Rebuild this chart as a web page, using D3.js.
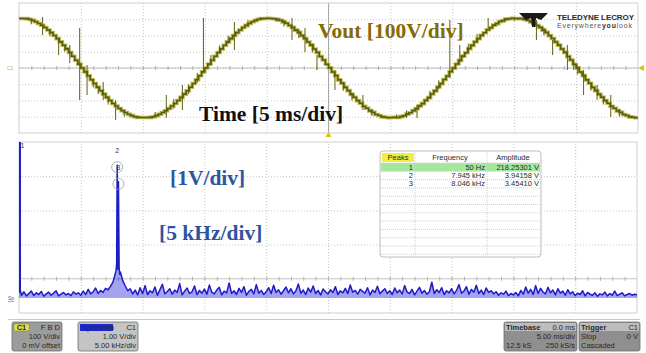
<!DOCTYPE html>
<html>
<head>
<meta charset="utf-8">
<script src="https://cdn.jsdelivr.net/npm/d3@7"></script>
<style>
  body { margin: 0; background: #fff; }
  svg text { font-family: "Liberation Sans", Arial, sans-serif; }
  .big { font-family: "Liberation Serif", "Times New Roman", serif !important; font-weight: bold; font-size: 21.5px; }
  .ui { font-size: 7.5px; fill: #2a2a2a; }
</style>
</head>
<body>
<div class="scope"></div>
<script>
// time trace, 0.25 ms per sample from -25 ms to +25 ms (volts)
const tStart = -25, tStep = 0.25;
const vout = [
  305,305,304,300,293,285,274,263,249,234,
  218,200,181,161,140,118,95,72,48,24,
  0,-24,-48,-72,-95,-118,-140,-161,-181,-200,
  -218,-234,-249,-263,-274,-285,-293,-300,-304,-305,
  -305,-305,-304,-300,-293,-285,-274,-263,-249,-234,
  -218,-200,-181,-161,-140,-118,-95,-72,-48,-24,
  0,24,48,72,95,118,140,161,181,200,
  218,234,249,263,274,285,293,300,304,305,
  306,305,303,299,294,284,275,262,250,233,
  219,199,182,160,141,117,96,71,49,23,
  1,-25,-47,-73,-94,-119,-139,-162,-180,-201,
  -217,-235,-248,-264,-273,-286,-292,-301,-303,-306,
  -305,-304,-305,-299,-294,-284,-275,-262,-250,-233,
  -219,-199,-182,-160,-141,-117,-96,-71,-49,-23,
  -1,25,47,73,94,119,139,162,180,201,
  217,235,248,264,273,286,292,301,303,306,
  305,304,305,299,294,284,275,262,250,233,
  219,199,182,160,141,117,96,71,49,23,
  1,-25,-47,-73,-94,-119,-139,-162,-180,-201,
  -217,-235,-248,-264,-273,-286,-292,-301,-303,-306,
  -305
];
// switching spikes: [time ms, high V, low V]
const spikes = [
  [-23.1,314,203],[-21.8,172,80],[-20.9,141,31],[-20.1,246,-197],[-19.5,18,-166],
  [-18.2,-86,-197],[-17.2,-197,-320],[-13.1,-166,-308],[-11.8,-105,-258],[-10.1,308,-25],
  [-7.6,283,111],[-2.95,308,172],[-1.9,246,98],[-0.93,80,-12],[0.52,-12,-135],
  [2.78,-166,-258],[7.15,-228,-308],[9.8,295,-62],[10.6,141,18],[12.9,308,246],
  [16.8,295,172],[18.1,172,80],[19.3,141,-12],[20.6,-12,-166],[21.7,-105,-197],[22.8,-166,-301]
];
const smallSpikes = [
  [-24.0,300,270],[-22.5,240,195],[-21.3,140,100],[-19.0,-70,-120],[-18.6,-110,-160],
  [-17.8,-175,-225],[-16.5,-255,-300],[-14.0,-270,-305],[-12.5,-190,-250],[-11.3,-100,-160],
  [-10.6,-30,-90],[-9.5,80,20],[-8.8,140,90],[-8.1,200,150],[-6.5,295,250],
  [-4.2,308,285],[-3.6,300,255],[-2.4,240,185],[-1.3,150,95],[1.2,-85,-140],
  [1.9,-150,-200],[3.5,-250,-295],[5.5,-285,-310],[6.3,-260,-305],[8.2,-140,-190],
  [8.9,-75,-130],[11.3,150,95],[12.0,210,155],[14.2,308,280],[15.0,310,290],
  [17.4,250,200],[19.8,45,-10],[20.1,20,-40],[21.2,-90,-140],[22.2,-170,-225],[23.5,-250,-300]
];

// spectrum, 0.2 kHz per sample from 0 to 50 kHz (volts)
const fStep = 0.2;
const spectrum = [
  0.20,0.14,0.24,0.12,0.19,0.26,0.13,0.21,0.16,0.25,0.11,0.18,0.23,0.14,0.20,0.27,0.12,0.17,0.22,0.15,0.19,0.13,0.24,0.17,0.21,
  0.14,0.26,0.16,0.31,0.18,0.24,0.35,0.19,0.28,0.22,0.34,0.30,0.40,0.52,0.78,0.95,0.82,0.56,0.41,0.27,0.33,0.18,0.29,0.15,0.36,
  0.19,0.42,0.16,0.27,0.21,0.38,0.14,0.30,0.46,0.18,0.25,0.33,0.17,0.29,0.22,0.48,0.15,0.26,0.35,0.19,0.24,0.41,0.16,0.28,0.20,
  0.32,0.17,0.44,0.23,0.18,0.29,0.37,0.15,0.26,0.21,0.50,0.19,0.27,0.16,0.34,0.22,0.39,0.14,0.25,0.31,0.18,0.45,0.20,0.28,0.16,
  0.24,0.36,0.19,0.43,0.22,0.30,0.17,0.27,0.38,0.21,0.33,0.18,0.26,0.47,0.20,0.29,0.16,0.35,0.23,0.41,0.19,0.28,0.15,0.32,0.24,
  0.18,0.30,0.22,0.39,0.16,0.27,0.21,0.34,0.19,0.44,0.23,0.28,0.17,0.31,0.25,0.20,0.36,0.15,0.29,0.22,0.40,0.18,0.26,0.33,0.19,
  0.27,0.16,0.35,0.21,0.29,0.18,0.42,0.23,0.19,0.31,0.15,0.26,0.37,0.20,0.28,0.17,0.24,0.52,0.19,0.30,0.22,0.36,0.16,0.27,0.21,
  0.33,0.18,0.28,0.45,0.20,0.26,0.39,0.17,0.31,0.23,0.43,0.19,0.29,0.16,0.35,0.22,0.27,0.18,0.24,0.14,0.21,0.17,0.26,0.13,0.19,
  0.15,0.22,0.12,0.28,0.17,0.38,0.20,0.31,0.16,0.42,0.19,0.34,0.23,0.18,0.37,0.21,0.29,0.15,0.33,0.20,0.26,0.14,0.30,0.18,0.24,
  0.13,0.20,0.16,0.27,0.12,0.22,0.17,0.14,0.21,0.11,0.18,0.15,0.23,0.12,0.19,0.14,0.26,0.13,0.17,0.21,0.12,0.16,0.19,0.14,0.17,
  0.15
];
// lower edge of the noise band (V)
const noiseFloor = 0.06;
// detail around the peaks [kHz, V]
const peakDetail = [[0.05,218.25],[0.1,0.3],[7.85,0.85],[7.9,1.05],[7.945,3.94158],[7.99,0.9],[8.02,1.1],[8.046,3.4541],[8.1,0.95],[8.15,0.75]];

const peakNo = [1, 2, 3];
const peakFreq = ['50 Hz', '7.945 kHz', '8.046 kHz'];
const peakAmp = ['218.25301 V', '3.94158 V', '3.45410 V'];
const peakFreqKHz = [0.05, 7.945, 8.046];
const peakAmpV = [218.25301, 3.94158, 3.45410];

const W = 646, H = 353;
const svg = d3.select('.scope').append('svg').attr('width', W).attr('height', H);

// ---------- top panel ----------
const panT = { x0: 19, x1: 638, y0: 3, y1: 133 };
const xT = d3.scaleLinear().domain([-25, 25]).range([panT.x0, panT.x1]);
const yT = d3.scaleLinear().domain([-400, 400]).range([panT.y1, panT.y0]);

svg.append('defs').append('clipPath').attr('id', 'clipT')
  .append('rect').attr('x', panT.x0).attr('y', panT.y0).attr('width', panT.x1 - panT.x0).attr('height', panT.y1 - panT.y0);

const gT = svg.append('g');
gT.append('g').attr('transform', 'translate(0,' + panT.y1 + ')')
  .call(d3.axisBottom(xT).tickValues(d3.range(-20, 25, 5)).tickSize(-(panT.y1 - panT.y0)).tickFormat(''))
  .call(g => g.select('.domain').remove())
  .call(g => g.selectAll('line').attr('stroke', '#c4c4c4').attr('stroke-dasharray', '1,2'));
gT.append('g').attr('transform', 'translate(' + panT.x0 + ',0)')
  .call(d3.axisLeft(yT).tickValues(d3.range(-300, 400, 100)).tickSize(-(panT.x1 - panT.x0)).tickFormat(''))
  .call(g => g.select('.domain').remove())
  .call(g => g.selectAll('line').attr('stroke', '#c4c4c4').attr('stroke-dasharray', '1,2'));
// centre lines with small ticks
gT.append('line').attr('x1', panT.x0).attr('x2', panT.x1).attr('y1', yT(0)).attr('y2', yT(0)).attr('stroke', '#bdbdbd');
gT.append('g').attr('transform', 'translate(0,' + yT(0) + ')')
  .call(d3.axisBottom(xT).tickValues(d3.range(-24, 25, 1)).tickSize(2).tickFormat(''))
  .call(g => g.select('.domain').remove())
  .call(g => g.selectAll('line').attr('stroke', '#b0b0b0').attr('y1', -2));
gT.append('line').attr('x1', xT(0)).attr('x2', xT(0)).attr('y1', panT.y0).attr('y2', panT.y1).attr('stroke', '#a8a8a8');
gT.append('rect').attr('x', panT.x0).attr('y', panT.y0).attr('width', panT.x1 - panT.x0).attr('height', panT.y1 - panT.y0)
  .attr('fill', 'none').attr('stroke', '#cfcfcf');

const wave = vout.map((v, i) => [tStart + i * tStep, v]);
const lineT = d3.line().x(d => xT(d[0])).y(d => yT(d[1])).curve(d3.curveStepAfter);
const traceT = gT.append('g').attr('clip-path', 'url(#clipT)');
traceT.append('path').datum(wave).attr('d', lineT).attr('fill', 'none').attr('stroke', '#bcbc50').attr('stroke-width', 3.6);
traceT.selectAll('.spk').data(spikes.concat(smallSpikes)).enter().append('line')
  .attr('x1', d => xT(d[0])).attr('x2', d => xT(d[0]))
  .attr('y1', d => yT(d[1])).attr('y2', d => yT(d[2]))
  .attr('stroke', '#6f6f1c').attr('stroke-width', 1.1);
traceT.append('path').datum(wave).attr('d', lineT).attr('fill', 'none').attr('stroke', '#5a5a10').attr('stroke-width', 1.6);

// markers
svg.append('text').attr('x', 7).attr('y', yT(0) + 2).attr('font-size', 5).attr('fill', '#c8b400').text('C1');
svg.append('path').attr('d', 'M638,' + yT(0) + ' l6,-3 l0,6 z').attr('fill', '#d4c800');
svg.append('path').attr('d', 'M' + xT(0) + ',' + (panT.y1 - 1) + ' l-3,5 l6,0 z').attr('fill', '#d4c800');

// logo
svg.append('path').attr('d', 'M519,13 L548,13 L541,20 L536,18 L535,27 L532,27 L531,18 L526,20 Z').attr('fill', '#1a1a1a');
svg.append('text').attr('x', 557).attr('y', 19.5).attr('font-size', 8).attr('font-weight', 'bold').attr('fill', '#2a2a2a')
  .attr('textLength', 77).text('TELEDYNE LECROY');
const tag = svg.append('text').attr('x', 557).attr('y', 27.5).attr('font-size', 7).attr('fill', '#555').attr('textLength', 75);
tag.append('tspan').text('Everywhere');
tag.append('tspan').attr('font-weight', 'bold').attr('fill', '#333').text('you');
tag.append('tspan').text('look');

svg.append('text').attr('class', 'big').attr('x', 318).attr('y', 38).attr('fill', '#856a08').text('Vout [100V/div]');
svg.append('text').attr('class', 'big').attr('x', 199).attr('y', 121).attr('fill', '#111').text('Time [5 ms/div]');

// ---------- bottom panel ----------
const panF = { x0: 19, x1: 637, y0: 142, y1: 313 };
const xF = d3.scaleLinear().domain([0, 50]).range([panF.x0, panF.x1]);
const yF = d3.scaleLinear().domain([0, 1]).range([300, 265.8]);
const yDiv = d3.scaleLinear().domain([0, 5]).range([panF.y1, panF.y0]);

svg.select('defs').append('clipPath').attr('id', 'clipF')
  .append('rect').attr('x', panF.x0).attr('y', panF.y0).attr('width', panF.x1 - panF.x0).attr('height', panF.y1 - panF.y0);

const gF = svg.append('g');
gF.append('g').attr('transform', 'translate(0,' + panF.y1 + ')')
  .call(d3.axisBottom(xF).tickValues(d3.range(5, 50, 5)).tickSize(-(panF.y1 - panF.y0)).tickFormat(''))
  .call(g => g.select('.domain').remove())
  .call(g => g.selectAll('line').attr('stroke', '#c4c4c4').attr('stroke-dasharray', '1,2'));
gF.append('g').attr('transform', 'translate(' + panF.x0 + ',0)')
  .call(d3.axisLeft(yDiv).tickValues([2, 3, 4]).tickSize(-(panF.x1 - panF.x0)).tickFormat(''))
  .call(g => g.select('.domain').remove())
  .call(g => g.selectAll('line').attr('stroke', '#c4c4c4').attr('stroke-dasharray', '1,2'));
gF.append('line').attr('x1', panF.x0).attr('x2', panF.x1).attr('y1', yDiv(1)).attr('y2', yDiv(1)).attr('stroke', '#c4c4c4');
gF.append('g').attr('transform', 'translate(0,' + yDiv(1) + ')')
  .call(d3.axisBottom(xF).tickValues(d3.range(1, 50, 1)).tickSize(2).tickFormat(''))
  .call(g => g.select('.domain').remove())
  .call(g => g.selectAll('line').attr('stroke', '#b0b0b0').attr('y1', -2));
gF.append('rect').attr('x', panF.x0).attr('y', panF.y0).attr('width', panF.x1 - panF.x0).attr('height', panF.y1 - panF.y0)
  .attr('fill', 'none').attr('stroke', '#cfcfcf');

const specPts = spectrum.map((v, i) => [i * fStep, v]).concat(peakDetail).sort((a, b) => a[0] - b[0]);
const lineF = d3.line().x(d => xF(d[0])).y(d => yF(d[1]));
const areaF = d3.area().x(d => xF(d[0])).y0(yF(noiseFloor)).y1(d => yF(d[1]));
const traceF = gF.append('g').attr('clip-path', 'url(#clipF)');
traceF.append('path').datum(specPts).attr('d', areaF).attr('fill', '#2424d8').attr('opacity', 0.42);
traceF.append('path').datum(specPts).attr('d', lineF).attr('fill', 'none')
  .attr('stroke', '#1c1cc8').attr('stroke-width', 1.5).attr('stroke-linejoin', 'round');

// peak markers
svg.append('text').attr('x', xF(peakFreqKHz[0]) + 1).attr('y', panF.y0 + 6).attr('font-size', 7).attr('fill', '#333').text(peakNo[0]);
[1, 2].forEach(i => {
  svg.append('circle').attr('cx', xF(peakFreqKHz[i])).attr('cy', yF(peakAmpV[i]) + 2).attr('r', 5.5)
    .attr('fill', 'none').attr('stroke', '#9a9a9a').attr('stroke-width', 0.8);
  svg.append('text').attr('x', xF(peakFreqKHz[i])).attr('y', yF(peakAmpV[i]) - 12).attr('text-anchor', 'middle')
    .attr('font-size', 7).attr('fill', '#333').text(peakNo[i]);
});
svg.append('text').attr('x', 8).attr('y', 300).attr('font-size', 5).attr('fill', '#4a5a9a')
  .attr('text-decoration', 'underline').text('Sp');

svg.append('text').attr('class', 'big').attr('x', 170).attr('y', 185).attr('fill', '#2f54a0').text('[1V/div]');
svg.append('text').attr('class', 'big').attr('x', 159).attr('y', 240).attr('fill', '#2f54a0').text('[5 kHz/div]');

// peaks table
const tg = svg.append('g');
tg.append('rect').attr('x', 380).attr('y', 151).attr('width', 161).attr('height', 106).attr('rx', 3)
  .attr('fill', '#fff').attr('stroke', '#bdbdbd');
tg.append('rect').attr('x', 382).attr('y', 153).attr('width', 32).attr('height', 9).attr('fill', '#f3ee3c');
tg.append('rect').attr('x', 381).attr('y', 163).attr('width', 159).attr('height', 8.3).attr('fill', '#a4e8a0');
d3.range(12).forEach(r => {
  tg.append('line').attr('x1', 381).attr('x2', 540).attr('y1', 163 + r * 8.3).attr('y2', 163 + r * 8.3)
    .attr('stroke', '#cfcfcf').attr('stroke-dasharray', '1,1');
});
[415, 487].forEach(x => tg.append('line').attr('x1', x).attr('x2', x).attr('y1', 152).attr('y2', 256)
  .attr('stroke', '#cfcfcf').attr('stroke-dasharray', '1,1'));
tg.append('text').attr('class', 'ui').attr('x', 398).attr('y', 160).attr('text-anchor', 'middle').text('Peaks');
tg.append('text').attr('class', 'ui').attr('x', 450).attr('y', 160).attr('text-anchor', 'middle').text('Frequency');
tg.append('text').attr('class', 'ui').attr('x', 513).attr('y', 160).attr('text-anchor', 'middle').text('Amplitude');
peakNo.forEach((p, i) => {
  const y = 169.5 + i * 8.3;
  tg.append('text').attr('class', 'ui').attr('x', 413).attr('y', y).attr('text-anchor', 'end').text(p);
  tg.append('text').attr('class', 'ui').attr('x', 485).attr('y', y).attr('text-anchor', 'end').text(peakFreq[i]);
  tg.append('text').attr('class', 'ui').attr('x', 539).attr('y', y).attr('text-anchor', 'end').text(peakAmp[i]);
});

// ---------- bottom info boxes ----------
svg.append('line').attr('x1', 8).attr('x2', 640).attr('y1', 319.5).attr('y2', 319.5).attr('stroke', '#c8c8c8');

function box(x, w, head, body, bodyFill, headFill) {
  const g = svg.append('g');
  g.append('rect').attr('x', x).attr('y', 322).attr('width', w).attr('height', 29).attr('rx', 2)
    .attr('fill', bodyFill).attr('stroke', '#6e6e6e').attr('stroke-width', 0.8);
  if (headFill) g.append('rect').attr('x', x + 1).attr('y', 323).attr('width', w - 2).attr('height', 8).attr('fill', headFill);
  head.forEach(h => g.append('text').attr('class', 'ui').attr('x', h[1] === 'end' ? x + w - 2 : x + 2).attr('y', 330)
    .attr('text-anchor', h[1]).attr('font-weight', h[2] || null).text(h[0]));
  body.forEach((row, r) => row.forEach(c => g.append('text').attr('class', 'ui')
    .attr('x', c[1] === 'end' ? x + w - 2 : x + 2).attr('y', 339 + r * 9).attr('text-anchor', c[1]).text(c[0])));
  return g;
}
const b1 = box(12, 50, [['F B D', 'end']], [[['100 V/div', 'end']], [['0 mV offset', 'end']]], '#9c9c9c');
b1.append('rect').attr('x', 14).attr('y', 324).attr('width', 15).attr('height', 7).attr('rx', 1).attr('fill', '#e6e04a').attr('stroke', '#777').attr('stroke-width', 0.5);
b1.append('text').attr('class', 'ui').attr('x', 21.5).attr('y', 330).attr('text-anchor', 'middle').attr('font-weight', 'bold').text('C1');
const b2 = box(78, 60, [['C1', 'end']], [[['1.00 V/div', 'end']], [['5.00 kHz/div', 'end']]], '#c4c4c4');
b2.append('rect').attr('x', 80).attr('y', 324).attr('width', 33).attr('height', 7).attr('fill', '#1c28d8');
b2.append('text').attr('class', 'ui').attr('x', 82).attr('y', 330).attr('fill', '#16208a').text('Spectrum');
box(504, 73, [['Timebase', 'start', 'bold'], ['0.0 ms', 'end']], [[['5.00 ms/div', 'end']], [['12.5 kS', 'start'], ['250 kS/s', 'end']]], '#8f8f8f', '#bdbdbd');
box(579, 61, [['Trigger', 'start', 'bold'], ['C1', 'end']], [[['Stop', 'start'], ['0 V', 'end']], [['Cascaded', 'start']]], '#8f8f8f', '#bdbdbd');
</script>
</body>
</html>
